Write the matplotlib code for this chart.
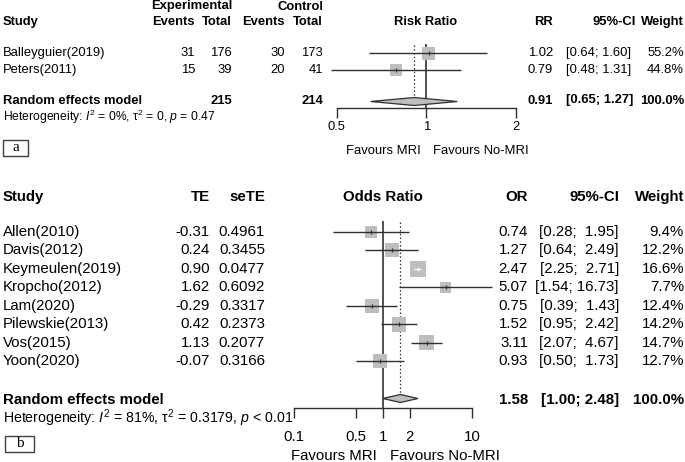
import numpy as np
import matplotlib
matplotlib.use('Agg')
import matplotlib.pyplot as plt
from matplotlib.ticker import NullLocator, FixedLocator, FixedFormatter
from matplotlib.patches import Polygon, Rectangle

plt.rcParams['font.family'] = ['Liberation Sans', 'DejaVu Sans']
plt.rcParams['mathtext.fontset'] = 'custom'
plt.rcParams['mathtext.rm'] = 'Liberation Sans'
plt.rcParams['mathtext.it'] = 'Liberation Sans:italic'
plt.rcParams['mathtext.bf'] = 'Liberation Sans:bold'

# ---------------- Panel a data (Risk Ratio) ----------------
studies_a = ["Balleyguier(2019)", "Peters(2011)"]
exp_events = [31, 15]
exp_total = [176, 39]
ctrl_events = [30, 20]
ctrl_total = [173, 41]
rr = [1.02, 0.79]
rr_lo = [0.64, 0.48]
rr_hi = [1.60, 1.31]
weight_a = [55.2, 44.8]
pooled_a = [0.91, 0.65, 1.27]
pooled_weight_a = 100.0
sum_exp_a = 215
sum_ctrl_a = 214
ticks_a = [0.5, 1, 2]
tick_labels_a = ["0.5", "1", "2"]
het_a = r"Heterogeneity: $\mathit{I}^2$ = 0%, τ$^2$ = 0, $\mathit{p}$ = 0.47"

# ---------------- Panel b data (Odds Ratio) ----------------
studies_b = ["Allen(2010)", "Davis(2012)", "Keymeulen(2019)", "Kropcho(2012)",
             "Lam(2020)", "Pilewskie(2013)", "Vos(2015)", "Yoon(2020)"]
te = ["-0.31", "0.24", "0.90", "1.62", "-0.29", "0.42", "1.13", "-0.07"]
sete = ["0.4961", "0.3455", "0.0477", "0.6092", "0.3317", "0.2373", "0.2077", "0.3166"]
odds = [0.74, 1.27, 2.47, 5.07, 0.75, 1.52, 3.11, 0.93]
or_lo = [0.28, 0.64, 2.25, 1.54, 0.39, 0.95, 2.07, 0.50]
or_hi = [1.95, 2.49, 2.71, 16.73, 1.43, 2.42, 4.67, 1.73]
weight_b = [9.4, 12.2, 16.6, 7.7, 12.4, 14.2, 14.7, 12.7]
pooled_b = [1.58, 1.00, 2.48]
pooled_weight_b = 100.0
ticks_b = [0.1, 0.5, 1, 2, 10]
tick_labels_b = ["0.1", "0.5", "1", "2", "10"]
het_b = r"Heterogeneity: $\mathit{I}^2$ = 81%, τ$^2$ = 0.3179, $\mathit{p}$ < 0.01"

# ---------------- layout / style ----------------
W, H = 685, 462
DPI = 100
fig = plt.figure(figsize=(W / DPI, H / DPI), dpi=DPI)
T = fig.add_axes([0, 0, 1, 1])
T.set_xlim(0, W)
T.set_ylim(H, 0)
T.axis('off')

LINE = '#303030'
SQ = '#BEBEBE'
NULL = '#505050'


def pt(px):
    return px * 72.0 / DPI


def txt(x, y, s, ha='left', fs=9.4, bold=False, **kw):
    T.text(x, y, s, ha=ha, va='center', fontsize=fs,
           fontweight='bold' if bold else 'normal', color='black', **kw)


def forest_axis(x0, x1, lim, y_axis, ticks, labels, fs, pad):
    ax = fig.add_axes([x0 / W, 0, (x1 - x0) / W, 1])
    ax.set_xscale('log')
    ax.set_xlim(lim)
    ax.set_ylim(H, 0)
    ax.patch.set_visible(False)
    for s in ['left', 'right', 'top']:
        ax.spines[s].set_visible(False)
    ax.spines['bottom'].set_position(('data', y_axis))
    ax.spines['bottom'].set_color(LINE)
    ax.spines['bottom'].set_linewidth(1.0)
    ax.yaxis.set_visible(False)
    ax.xaxis.set_major_locator(FixedLocator(ticks))
    ax.xaxis.set_major_formatter(FixedFormatter(labels))
    ax.xaxis.set_minor_locator(NullLocator())
    ax.tick_params(axis='x', direction='out', length=7, width=1.0, pad=pad,
                   labelsize=fs, color=LINE, labelcolor='black')
    return ax


def draw_study(ax, y, est, lo, hi, side_px):
    ax.scatter([est], [y], marker='s', s=pt(side_px) ** 2, color=SQ,
               edgecolors='none', zorder=3, clip_on=False)
    trans = ax.transData
    xe = trans.transform((est, y))[0]
    xl = trans.transform((lo, y))[0]
    xh = trans.transform((hi, y))[0]
    inside = (xe - xl) < side_px / 2 and (xh - xe) < side_px / 2
    col = 'white' if inside else LINE
    ax.plot([lo, hi], [y, y], color=col, lw=1.0, zorder=4, clip_on=False,
            solid_capstyle='butt')
    ax.plot([est], [y], marker='|', markersize=3.5, mew=0.9, color=col,
            zorder=5, clip_on=False)


def draw_diamond(ax, y, est, lo, hi, h):
    poly = Polygon([(lo, y), (est, y - h / 2), (hi, y), (est, y + h / 2)],
                   closed=True, facecolor=SQ, edgecolor=LINE, lw=0.9,
                   zorder=3, clip_on=False)
    ax.add_patch(poly)


# ================= Panel a =================
fsa = 9.4
ya_head1, ya_head2 = 6.5, 22
ya_rows = 53.3 + 16.7 * np.arange(len(studies_a))
ya_pool = 100.5
ya_het = 116.5
ya_axis = 108

txt(232, ya_head1, "Experimental", ha='right', fs=fsa, bold=True)
txt(323, ya_head1, "Control", ha='right', fs=fsa, bold=True)
txt(3, ya_head2, "Study", fs=fsa, bold=True)
txt(195, ya_head2, "Events", ha='right', fs=fsa, bold=True)
txt(232, ya_head2, "Total", ha='right', fs=fsa, bold=True)
txt(285, ya_head2, "Events", ha='right', fs=fsa, bold=True)
txt(323, ya_head2, "Total", ha='right', fs=fsa, bold=True)
txt(426, ya_head2, "Risk Ratio", ha='center', fs=fsa, bold=True)
txt(553, ya_head2, "RR", ha='right', fs=fsa, bold=True)
txt(636, ya_head2, "95%-CI", ha='right', fs=fsa, bold=True)
txt(684, ya_head2, "Weight", ha='right', fs=fsa, bold=True)

for i, y in enumerate(ya_rows):
    txt(3, y, studies_a[i], fs=fsa)
    txt(195, y, str(exp_events[i]), ha='right', fs=fsa)
    txt(232, y, str(exp_total[i]), ha='right', fs=fsa)
    txt(285, y, str(ctrl_events[i]), ha='right', fs=fsa)
    txt(323, y, str(ctrl_total[i]), ha='right', fs=fsa)
    txt(553, y, f"{rr[i]:.2f}", ha='right', fs=fsa)
    txt(631, y, f"[{rr_lo[i]:.2f}; {rr_hi[i]:.2f}]", ha='right', fs=fsa)
    txt(684, y, f"{weight_a[i]:.1f}%", ha='right', fs=fsa)

txt(3, ya_pool, "Random effects model", fs=fsa, bold=True)
txt(232, ya_pool, str(sum_exp_a), ha='right', fs=fsa, bold=True)
txt(323, ya_pool, str(sum_ctrl_a), ha='right', fs=fsa, bold=True)
txt(553, ya_pool, f"{pooled_a[0]:.2f}", ha='right', fs=fsa, bold=True)
txt(633, ya_pool, f"[{pooled_a[1]:.2f}; {pooled_a[2]:.2f}]", ha='right', fs=fsa, bold=True)
txt(684, ya_pool, f"{pooled_weight_a:.1f}%", ha='right', fs=fsa, bold=True)
txt(3, ya_het, het_a, fs=8.7)

axa = forest_axis(336.7, 516, (0.5, 2), ya_axis, ticks_a, tick_labels_a, fsa, 2.5)
ka = 13.0 / np.sqrt(max(weight_a))
for i, y in enumerate(ya_rows):
    draw_study(axa, y, rr[i], rr_lo[i], rr_hi[i], ka * np.sqrt(weight_a[i]))
draw_diamond(axa, ya_pool + 1, pooled_a[0], pooled_a[1], pooled_a[2], 8)
axa.plot([1, 1], [45, ya_axis], color=NULL, lw=1.4, zorder=2, clip_on=False)
axa.plot([pooled_a[0]] * 2, [45, ya_pool - 3], color=LINE, lw=0.9,
         ls=(0, (1.2, 1.8)), zorder=2, clip_on=False)
xa1 = axa.transData.transform((1, 0))[0]
txt(xa1 - 6, 151.5, "Favours MRI", ha='right', fs=fsa)
txt(xa1 + 7, 151.5, "Favours No-MRI", ha='left', fs=fsa)

T.text(15.5, 147.5, "a", ha='center', va='center', fontsize=11,
       family=['Liberation Serif', 'DejaVu Serif'])
T.add_patch(Rectangle((3.5, 139.5), 25, 16, fill=False, edgecolor='#404040', lw=1.0))

# ================= Panel b =================
fsb = 10.8
yb_head = 196.7
yb_rows = 231.7 + 18.5 * np.arange(len(studies_b))
yb_pool = 400
yb_het = 418
yb_axis = 407.5

txt(3, yb_head, "Study", fs=fsb, bold=True)
txt(210, yb_head, "TE", ha='right', fs=fsb, bold=True)
txt(265, yb_head, "seTE", ha='right', fs=fsb, bold=True)
txt(383, yb_head, "Odds Ratio", ha='center', fs=fsb, bold=True)
txt(528, yb_head, "OR", ha='right', fs=fsb, bold=True)
txt(619, yb_head, "95%-CI", ha='right', fs=fsb, bold=True)
txt(684, yb_head, "Weight", ha='right', fs=fsb, bold=True)

for i, y in enumerate(yb_rows):
    txt(3, y, studies_b[i], fs=fsb)
    txt(210, y, te[i], ha='right', fs=fsb)
    txt(265, y, sete[i], ha='right', fs=fsb)
    txt(528, y, f"{odds[i]:.2f}", ha='right', fs=fsb)
    txt(619, y, f"[{or_lo[i]:.2f}; {or_hi[i]:5.2f}]", ha='right', fs=fsb)
    txt(684, y, f"{weight_b[i]:.1f}%", ha='right', fs=fsb)

txt(3, yb_pool, "Random effects model", fs=fsb, bold=True)
txt(528, yb_pool, f"{pooled_b[0]:.2f}", ha='right', fs=fsb, bold=True)
txt(619, yb_pool, f"[{pooled_b[1]:.2f}; {pooled_b[2]:.2f}]", ha='right', fs=fsb, bold=True)
txt(684, yb_pool, f"{pooled_weight_b:.1f}%", ha='right', fs=fsb, bold=True)
txt(3, yb_het, het_b, fs=10.2)

axb = forest_axis(293.5, 472, (0.1, 10), yb_axis, ticks_b, tick_labels_b, fsb, 9.0)
kb = 16.0 / np.sqrt(max(weight_b))
for i, y in enumerate(yb_rows):
    draw_study(axb, y, odds[i], or_lo[i], or_hi[i], kb * np.sqrt(weight_b[i]))
draw_diamond(axb, yb_pool - 1.5, pooled_b[0], pooled_b[1], pooled_b[2], 8)
axb.plot([1, 1], [222, yb_axis], color=NULL, lw=1.4, zorder=2, clip_on=False)
axb.plot([pooled_b[0]] * 2, [222, yb_pool - 5.5], color=LINE, lw=0.9,
         ls=(0, (1.2, 1.8)), zorder=2, clip_on=False)
xb1 = axb.transData.transform((1, 0))[0]
txt(xb1 - 6, 456.5, "Favours MRI", ha='right', fs=fsb)
txt(xb1 + 7, 456.5, "Favours No-MRI", ha='left', fs=fsb)

T.text(20, 443.5, "b", ha='center', va='center', fontsize=11,
       family=['Liberation Serif', 'DejaVu Serif'])
T.add_patch(Rectangle((5.5, 435.5), 29, 16.5, fill=False, edgecolor='#404040', lw=1.0))

fig.savefig('out.png', dpi=DPI)
